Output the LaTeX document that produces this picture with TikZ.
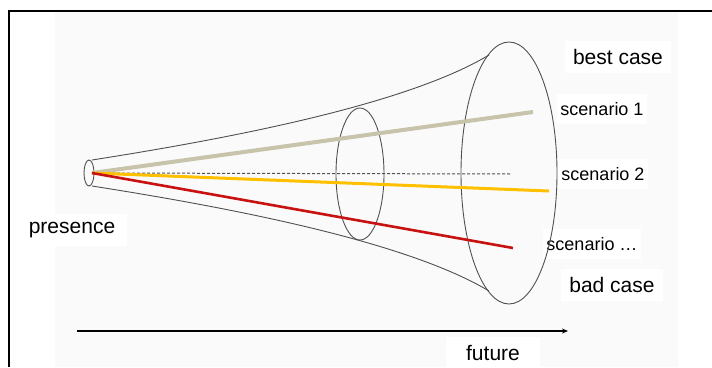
\documentclass[tikz,border=0pt]{standalone}
\usepackage{fontspec}
\setmainfont{Liberation Sans}
\usetikzlibrary{arrows.meta}
\definecolor{conegray}{RGB}{80,80,80}
\definecolor{beige}{RGB}{200,196,172}
\definecolor{gold}{RGB}{255,192,0}
\definecolor{darkred}{RGB}{200,18,18}
\definecolor{backgray}{RGB}{250,250,250}

\begin{document}
\begin{tikzpicture}[x=1pt,y=-1pt,
    cone/.style={conegray, line width=0.9pt},
    casetext/.style={fill=white, inner xsep=8pt, inner ysep=8pt, font=\fontsize{21}{24}\selectfont},
    scentext/.style={fill=white, inner xsep=3pt, inner ysep=8pt, font=\fontsize{18}{21}\selectfont}]
    \useasboundingbox (0,0) rectangle (712,367);
    \fill[white] (0,0) rectangle (712,367);
    \fill[backgray] (55,12) rectangle (678,367);
    \draw[line width=2.5pt] (9,367) -- (9,11) -- (712,11);
    % labels
    \node[casetext] (best) at (618,57) {best case};
    \node[scentext] (sc1) at (602,109) {scenario 1};
    \node[scentext] (sc2) at (603,174) {scenario 2};
    \node[scentext] (scn) at (592,244) {scenario \dots};
    \node[casetext] (bad) at (612,285) {bad case};
    \node[casetext, inner xsep=12pt] (now) at (72,230) {presence};
    \node[casetext, inner xsep=20pt] (fut) at (493,353) {future};
    % cone
    \draw[cone] (92,160) .. controls (242,136.5) and (409,103) .. (489,55);
    \draw[cone] (92,186) .. controls (242,209.5) and (409,243) .. (489,291);
    \draw[cone] (89,173) ellipse (5 and 13);
    \draw[cone] (360,174) ellipse (24 and 66);
    \draw[cone] (509,173) ellipse (48 and 131);
    % scenarios
    \coordinate (apex) at (92,173);
    \coordinate (end1) at (533,112);
    \coordinate (end0) at (511,174);
    \coordinate (end2) at (549,191);
    \coordinate (endn) at (513,248);
    \draw[beige, line width=4pt] (apex) -- (end1);
    \draw[conegray, line width=1pt, dash pattern=on 3pt off 2pt] (apex) -- (end0);
    \draw[gold, line width=3pt] (apex) -- (end2);
    \draw[darkred, line width=2.6pt] (apex) -- (endn);
    % time axis
    \coordinate (t0) at (77,331);
    \coordinate (t1) at (568,331);
    \draw[line width=1.4pt, -{Stealth[length=6pt,width=5pt]}] (t0) -- (t1);
\end{tikzpicture}
\end{document}
